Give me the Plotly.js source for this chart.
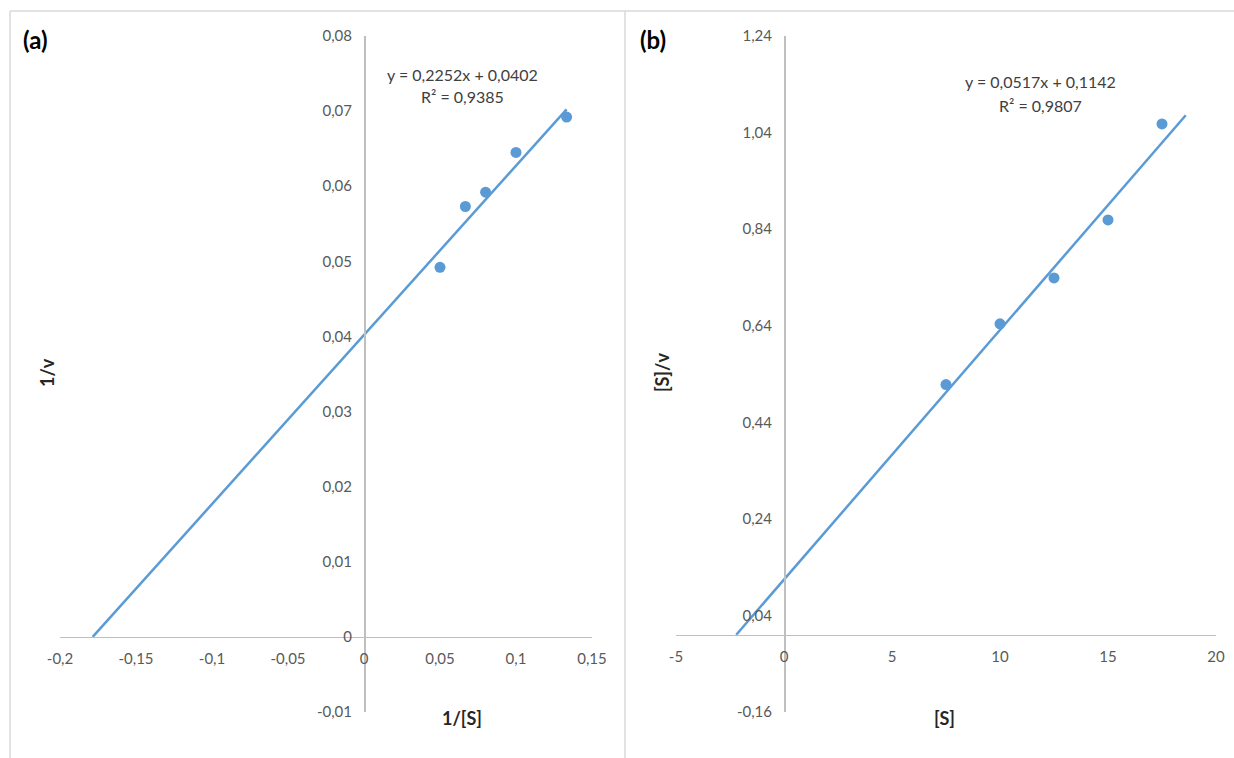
<!DOCTYPE html>
<html>
<head>
<meta charset="utf-8">
<script src="https://cdn.plot.ly/plotly-3.0.1.min.js"></script>
<style>html,body{margin:0;padding:0;background:#fff;}#chart{width:1234px;height:758px;}</style>
</head>
<body>
<div id="chart"></div>
<script>
// ---- Data: panel (a) Lineweaver-Burk ----
const invS = [0.05, 0.0667, 0.08, 0.1, 0.1333];
const invV = [0.0492, 0.0573, 0.0592, 0.0645, 0.0692];
const slopeA = 0.2252, interceptA = 0.0402;
const trendAx = [-0.1785, 0.1333];

// ---- Data: panel (b) Hanes-Woolf ----
const S = [7.5, 10, 12.5, 15, 17.5];
const SoverV = [0.518, 0.644, 0.739, 0.859, 1.058];
const slopeB = 0.0517, interceptB = 0.1142;
const trendBx = [-2.21, 18.6];

// ---- Tick values / labels ----
const aXTickVals = [-0.2, -0.15, -0.1, -0.05, 0, 0.05, 0.1, 0.15];
const aXTickText = ['-0,2', '-0,15', '-0,1', '-0,05', '0', '0,05', '0,1', '0,15'];
const aYTickVals = [-0.01, 0, 0.01, 0.02, 0.03, 0.04, 0.05, 0.06, 0.07, 0.08];
const aYTickText = ['-0,01', '0', '0,01', '0,02', '0,03', '0,04', '0,05', '0,06', '0,07', '0,08'];
const bXTickVals = [-5, 0, 5, 10, 15, 20];
const bXTickText = ['-5', '0', '5', '10', '15', '20'];
const bYTickVals = [-0.16, 0.04, 0.24, 0.44, 0.64, 0.84, 1.04, 1.24];
const bYTickText = ['-0,16', '0,04', '0,24', '0,44', '0,64', '0,84', '1,04', '1,24'];

const eqA = 'y = 0,2252x + 0,0402';
const r2A = 'R² = 0,9385';
const eqB = 'y = 0,0517x + 0,1142';
const r2B = 'R² = 0,9807';

// ---- Layout helpers ----
const W = 1234, H = 758;
const px = v => v / W;
const py = v => 1 - v / H;
const blue = '#5b9bd5';
const axisCol = '#bfbfbf';
const FONT = 'Lato, "Open Sans", sans-serif';
const tickFont = {family: FONT, size: 15, color: '#595959'};

const aRangeX = [-0.2, 0.15], aRangeY = [-0.01, 0.08];
const bRangeX = [-5, 20], bRangeY = [-0.16, 1.24];
const aDomX = [px(60), px(592)];
const bDomX = [px(676), px(1216)];
const domY = [py(712), py(36)];
const frac = (r, v) => (v - r[0]) / (r[1] - r[0]);
const at = (dom, r, v) => dom[0] + frac(r, v) * (dom[1] - dom[0]);

const trendAy = trendAx.map(x => slopeA * x + interceptA);
const trendBy = trendBx.map(x => slopeB * x + interceptB);

const traces = [
  {x: trendAx, y: trendAy, mode: 'lines', line: {color: blue, width: 2.5}, xaxis: 'x', yaxis: 'y', hoverinfo: 'skip'},
  {x: invS, y: invV, mode: 'markers', marker: {color: blue, size: 11}, xaxis: 'x', yaxis: 'y'},
  {x: trendBx, y: trendBy, mode: 'lines', line: {color: blue, width: 2.5}, xaxis: 'x2', yaxis: 'y2', hoverinfo: 'skip'},
  {x: S, y: SoverV, mode: 'markers', marker: {color: blue, size: 11}, xaxis: 'x2', yaxis: 'y2'}
];

function axis(extra) {
  return Object.assign({
    showgrid: false, zeroline: false, showline: true, linecolor: axisCol, linewidth: 1.5,
    ticks: '', tickmode: 'array', tickfont: tickFont, fixedrange: true, anchor: 'free'
  }, extra);
}

const ann = (text, x, y, size, color, extra) => Object.assign({
  text: text, xref: 'paper', yref: 'paper', x: px(x), y: py(y), xanchor: 'center', yanchor: 'middle',
  showarrow: false, font: {family: FONT, size: size, color: color}
}, extra || {});

const layout = {
  width: W, height: H,
  margin: {l: 0, r: 0, t: 0, b: 0},
  paper_bgcolor: '#fff', plot_bgcolor: 'rgba(0,0,0,0)',
  showlegend: false, hovermode: false,
  xaxis: axis({domain: aDomX, range: aRangeX, tickvals: aXTickVals, ticktext: aXTickText,
    position: at(domY, aRangeY, 0), ticklabelstandoff: 8}),
  yaxis: axis({domain: domY, range: aRangeY, tickvals: aYTickVals, ticktext: aYTickText,
    position: at(aDomX, aRangeX, 0), ticklabelstandoff: 9}),
  xaxis2: axis({domain: bDomX, range: bRangeX, tickvals: bXTickVals, ticktext: bXTickText,
    position: at(domY, bRangeY, 0), ticklabelstandoff: 8}),
  yaxis2: axis({domain: domY, range: bRangeY, tickvals: bYTickVals, ticktext: bYTickText,
    position: at(bDomX, bRangeX, 0), ticklabelstandoff: 9}),
  shapes: [
    {type: 'line', xref: 'paper', yref: 'paper', x0: px(10), x1: 1, y0: py(11), y1: py(11), line: {color: '#d9d9d9', width: 1.5}},
    {type: 'line', xref: 'paper', yref: 'paper', x0: px(10), x1: px(10), y0: 0, y1: py(11), line: {color: '#d9d9d9', width: 1.5}},
    {type: 'line', xref: 'paper', yref: 'paper', x0: px(625), x1: px(625), y0: 0, y1: py(11), line: {color: '#d9d9d9', width: 1.5}}
  ],
  annotations: [
    ann('<b>(a)</b>', 21, 40, 24, '#000', {xanchor: 'left'}),
    ann('<b>(b)</b>', 638, 40, 24, '#000', {xanchor: 'left'}),
    ann(eqA, 462, 74, 16, '#404040'),
    ann(r2A, 462, 97, 16, '#404040'),
    ann(eqB, 1040, 82, 16, '#404040'),
    ann(r2B, 1040, 105, 16, '#404040'),
    ann('<b>1/[S]</b>', 462, 718, 18, '#262626'),
    ann('<b>[S]</b>', 944, 718, 18, '#262626'),
    ann('<b>1/v</b>', 47, 373, 18, '#262626', {textangle: -90}),
    ann('<b>[S]/v</b>', 662, 373, 18, '#262626', {textangle: -90})
  ]
};

Plotly.newPlot('chart', traces, layout, {staticPlot: true, displayModeBar: false});
</script>
</body>
</html>
